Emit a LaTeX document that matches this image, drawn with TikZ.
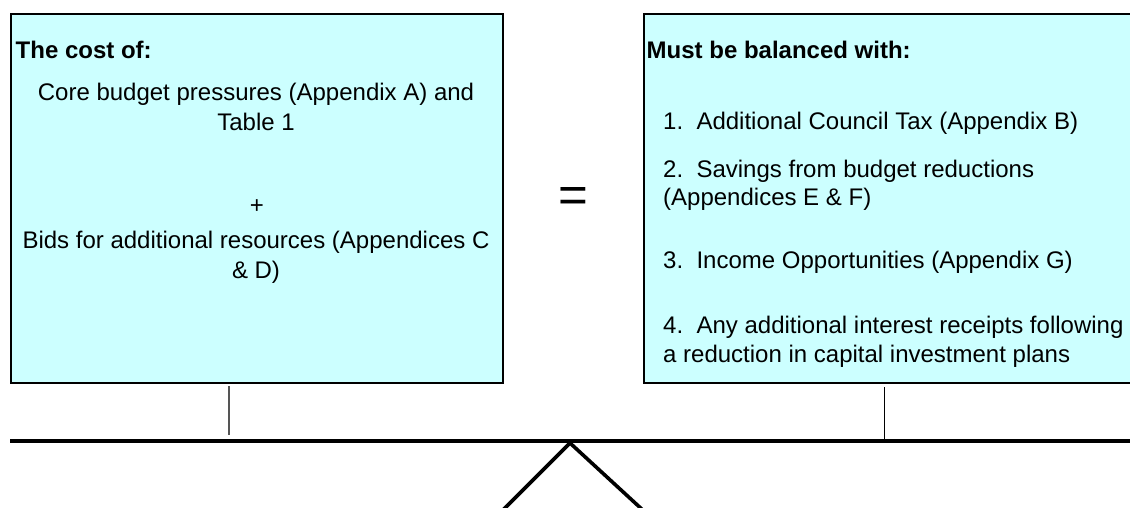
\documentclass[tikz,border=0pt]{standalone}
\usepackage{fontspec}
\setmainfont{Liberation Sans}
\definecolor{panelcyan}{RGB}{204,255,255}
\definecolor{polegrey}{RGB}{85,85,85}
\begin{document}
\begin{tikzpicture}[x=1pt,y=-1pt,
  panel/.style={draw=black, line width=2.2pt, fill=panelcyan, inner sep=0pt,
                anchor=north west},
  line/.style={font=\fontsize{24}{30}\selectfont, inner sep=0pt, anchor=base},
  lline/.style={line, anchor=base west},
  head/.style={lline, font=\fontsize{24}{30}\selectfont\bfseries},
  beam/.style={line width=4pt},
  leg/.style={line width=3.6pt},
  pole/.style={line width=1.2pt}]
\useasboundingbox (0,0) rectangle (1130,508);
\clip (0,0) rectangle (1130,508);

% the two pans
\node[panel, minimum width=491.3pt, minimum height=368.8pt] (cost) at (10.2,13.2) {};
\node[panel, minimum width=510pt, minimum height=368.8pt] (balance) at (643,13.2) {};

% left pan: what has to be paid for
\node[head] (costhead) at (15.5,59) {The cost of:};
\node[line] (core1) at (256,101) {Core budget pressures (Appendix A) and};
\node[line] (core2) at (256,131) {Table 1};
\node[line] (plus) at (257,213) {+};
\node[line] (bids1) at (256,248) {Bids for additional resources (Appendices C};
\node[line] (bids2) at (256,278) {\& D)};

% right pan: how it is funded
\node[head] (balhead) at (646.5,59) {Must be balanced with:};
\node[lline] (item1) at (663,130) {1.\ \ Additional Council Tax (Appendix B)};
\node[lline] (item2a) at (663,177) {2.\ \ Savings from budget reductions};
\node[lline] (item2b) at (663,205) {(Appendices E \& F)};
\node[lline] (item3) at (663,268) {3.\ \ Income Opportunities (Appendix G)};
\node[lline] (item4a) at (663,333) {4.\ \ Any additional interest receipts following};
\node[lline] (item4b) at (663,362) {a reduction in capital investment plans};

% equals sign between the pans
\node[font=\fontsize{51}{51}\selectfont, inner sep=0pt] (equals) at (573.5,199.5) {=};

% beam and fulcrum
\coordinate (beamL) at (10,441);
\coordinate (beamR) at (1140,441);
\coordinate (apex) at (570,443);
\coordinate (footL) at (500,513);
\coordinate (footR) at (646,513);
\draw[beam] (beamL) -- (beamR);
\draw[leg, line join=miter] (footL) -- (apex) -- (footR);

% hangers from the pans down to the beam
\coordinate (hangLtop) at (229,386);
\coordinate (hangLbot) at (229,435);
\coordinate (hangRtop) at (884,387);
\coordinate (hangRbot) at (884,440);
\draw[pole, draw=polegrey] (hangLtop) -- (hangLbot);
\draw[pole, line width=1pt] (hangRtop) -- (hangRbot);
\end{tikzpicture}
\end{document}
